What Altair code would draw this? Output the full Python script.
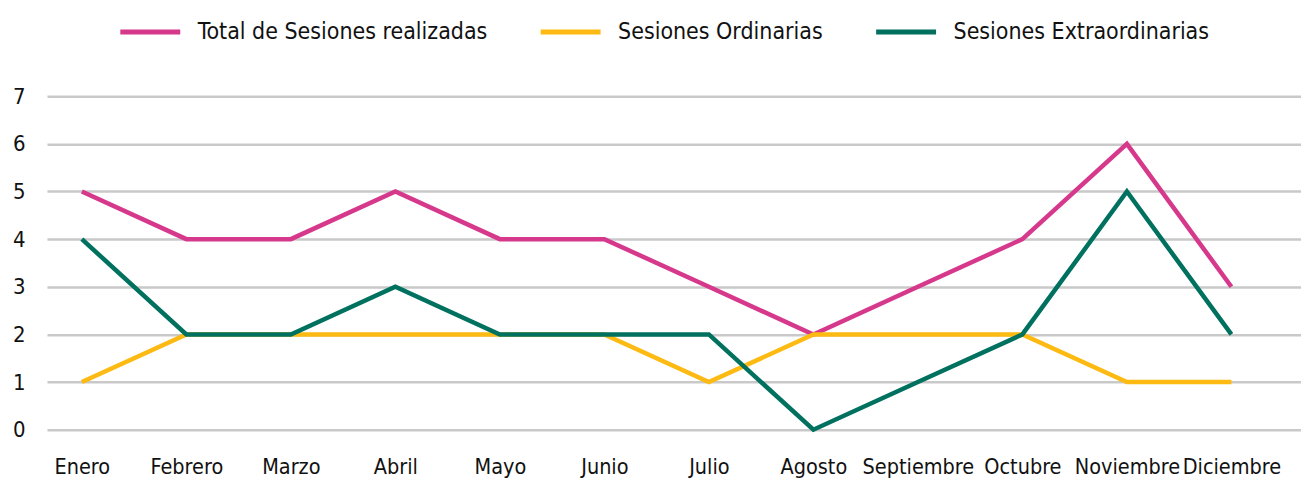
import altair as alt
import pandas as pd

months = ["Enero", "Febrero", "Marzo", "Abril", "Mayo", "Junio", "Julio",
          "Agosto", "Septiembre", "Octubre", "Noviembre", "Diciembre"]
total = [5, 4, 4, 5, 4, 4, 3, 2, 3, 4, 6, 3]
ordinarias = [1, 2, 2, 2, 2, 2, 1, 2, 2, 2, 1, 1]
extraordinarias = [4, 2, 2, 3, 2, 2, 2, 0, 1, 2, 5, 2]
series_names = ["Total de Sesiones realizadas", "Sesiones Ordinarias", "Sesiones Extraordinarias"]
series_colors = ["#D6388C", "#FDBA12", "#00715F"]

rows = []
for name, vals in zip(series_names, [total, ordinarias, extraordinarias]):
    for m, v in zip(months, vals):
        rows.append({"Mes": m, "Valor": v, "Serie": name})
df = pd.DataFrame(rows)

FONT = "DejaVu Sans Condensed, Liberation Sans Narrow, sans-serif"

chart = alt.Chart(df).mark_line(strokeWidth=4.5).encode(
    x=alt.X("Mes:N", sort=months, title=None,
            scale=alt.Scale(type="point", padding=0.5, align=0.334),
            axis=alt.Axis(labelAngle=0, ticks=False, domain=False, grid=False,
                          labelFontSize=21.5, labelPadding=27, labelColor="#111111",
                          labelFont=FONT)),
    y=alt.Y("Valor:Q", title=None,
            scale=alt.Scale(domain=[0, 7], nice=False),
            axis=alt.Axis(values=[0, 1, 2, 3, 4, 5, 6, 7], ticks=False, domain=False,
                          gridColor="#C9C9C9", gridWidth=2.5,
                          labelFontSize=22, labelPadding=22, labelColor="#111111",
                          labelFont=FONT)),
    color=alt.Color("Serie:N", sort=series_names,
                    scale=alt.Scale(domain=series_names, range=series_colors),
                    legend=alt.Legend(title=None, orient="none", legendX=71, legendY=-97,
                                      direction="horizontal", columns=3,
                                      symbolType="stroke", symbolSize=3600,
                                      symbolStrokeWidth=5, labelFontSize=23,
                                      labelOffset=15, columnPadding=42,
                                      labelFont=FONT, labelColor="#111111",
                                      labelLimit=400)),
    order=alt.Order("Serie:N"),
).properties(
    width=1256, height=334,
    autosize=alt.AutoSizeParams(type="none"),
    padding={"left": 39, "top": 88, "right": 0, "bottom": 48},
).configure_view(stroke=None)

chart.save("out.html", embed_options={"renderer": "svg", "actions": False})
